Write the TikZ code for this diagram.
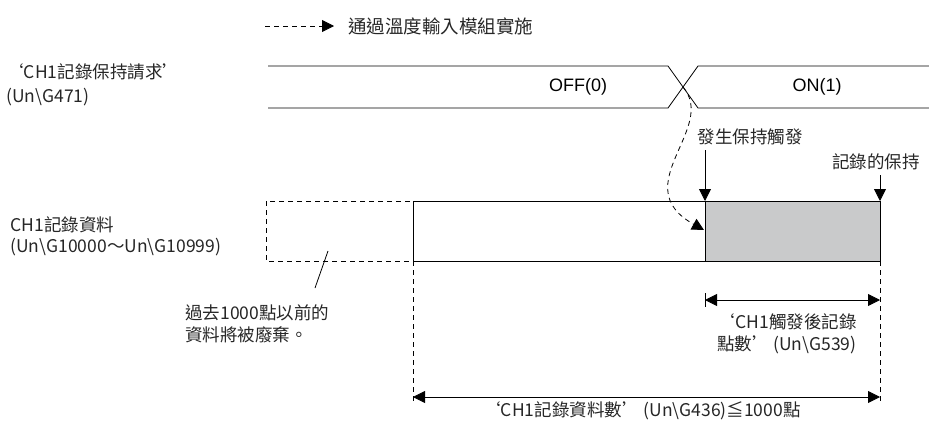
\documentclass[tikz,border=0pt]{standalone}
\usepackage{fontspec}
\setmainfont{Noto Sans CJK TC}
\newfontfamily\arialf{Liberation Sans}
\usetikzlibrary{arrows.meta}
\begin{document}
\begin{tikzpicture}[x=1pt,y=-1pt,line width=0.8pt,
  lbl/.style={font=\fontsize{17.5}{20}\selectfont, inner sep=0pt, text=black!85},
  leg/.style={font=\fontsize{18.5}{20}\selectfont, inner sep=0pt, text=black!85},
  sig/.style={font=\arialf\fontsize{18}{20}\selectfont, inner sep=0pt},
  tip/.style={-{Triangle[length=12pt,width=12pt]}},
  dbl/.style={{Triangle[length=12pt,width=12pt]}-{Triangle[length=12pt,width=12pt]}},
  dsh/.style={dash pattern=on 5pt off 4pt},
  boxline/.style={line width=1pt}]
\useasboundingbox (0,0) rectangle (929,421);
% legend
\coordinate (legA) at (265,26);
\coordinate (legB) at (334,26);
\draw[dsh,tip] (legA) -- (legB);
\node[leg,anchor=west] (legT) at (348,26) {通過溫度輸入模組實施};
% signal
\coordinate (s0t) at (268,66);
\coordinate (s0b) at (268,108);
\coordinate (s1t) at (668,66);
\coordinate (s1b) at (668,108);
\coordinate (s2t) at (698,66);
\coordinate (s2b) at (698,108);
\coordinate (s3t) at (929,66);
\coordinate (s3b) at (929,108);
\coordinate (cross) at (683,87);
\draw (s0t) -- (s1t) -- (s2b) -- (s3b);
\draw (s0b) -- (s1b) -- (s2t) -- (s3t);
\node[sig] (off) at (578,87) {OFF(0)};
\node[sig] (on) at (817,87) {ON(1)};
\node[lbl,anchor=west] (req1) at (6,72) {‘CH1記錄保持請求’};
\node[lbl,anchor=west] (req2) at (6,97) {(Un\textbackslash G471)};
% data row
\coordinate (dA) at (266,201);
\coordinate (dB) at (413,261);
\coordinate (dC) at (413,201);
\coordinate (dD) at (880,261);
\coordinate (gA) at (705,201);
\fill[fill={rgb,255:red,201;green,202;blue,203}] (gA) rectangle (dD);
\draw[dsh] (dA) rectangle (dB);
\draw[boxline] (dC) rectangle (dD);
\draw[boxline] (gA) -- (gA |- dD);
\node[lbl,anchor=west] (dat1) at (10,225) {CH1記錄資料};
\node[lbl,anchor=west] (dat2) at (10,247) {(Un\textbackslash G10000～Un\textbackslash G10999)};
% discarded note
\coordinate (ldA) at (328,251);
\node[lbl,anchor=west] (old1) at (185,313) {過去1000點以前的};
\node[lbl,anchor=west] (old2) at (185,335) {資料將被廢棄。};
\coordinate (ldB) at (315,288);
\draw (ldA) -- (ldB);
% trigger
\node[lbl] (trig) at (750,137) {發生保持觸發};
\coordinate (trA) at (705,150);
\draw[tip] (trA) -- (gA);
\node[lbl] (hold) at (876,162) {記錄的保持};
\coordinate (hoA) at (880,175);
\coordinate (hoB) at (880,201);
\draw[tip] (hoA) -- (hoB);
\coordinate (curE) at (704,230);
\draw[dsh,tip] (cross) .. controls (718,128) and (625,186) .. (curE);
% dimension lines
\coordinate (vL) at (413,401);
\coordinate (vR) at (880,401);
\draw[dsh] (dB) -- (vL);
\draw[dsh] (dD) -- (vR);
\coordinate (a1L) at (705,300);
\coordinate (a1R) at (880,300);
\draw[dbl] (a1L) -- (a1R);
\draw (705,293) -- (705,307);
\node[lbl,anchor=east] (post1) at (857,322) {‘CH1觸發後記錄};
\node[lbl,anchor=east] (post2) at (857,345) {點數’ (Un\textbackslash G539)};
\coordinate (a2L) at (413,397);
\coordinate (a2R) at (880,397);
\draw[dbl] (a2L) -- (a2R);
\node[lbl] (cnt) at (642,411) {‘CH1記錄資料數’ (Un\textbackslash G436)≦1000點};
\end{tikzpicture}
\end{document}
